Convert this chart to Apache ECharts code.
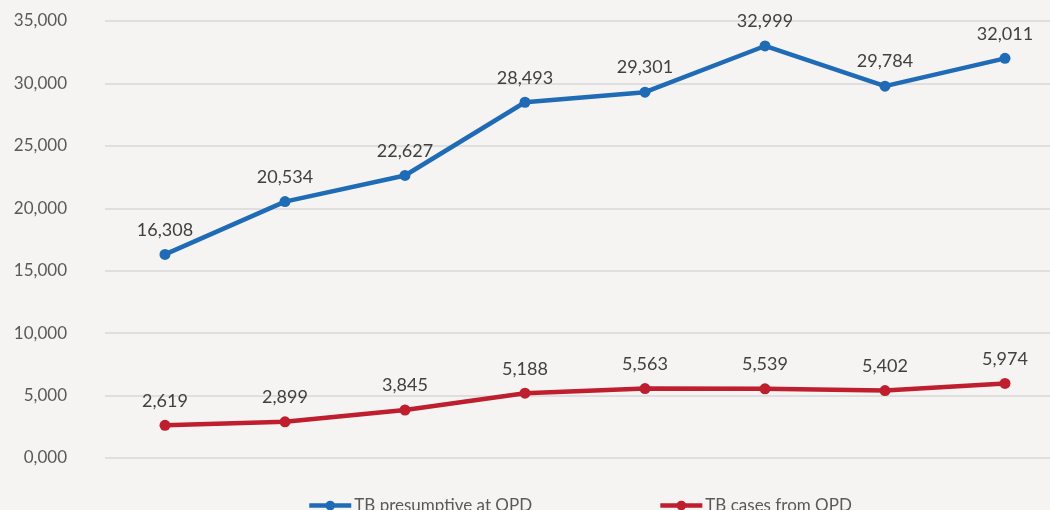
<!DOCTYPE html>
<html>
<head>
<meta charset="utf-8">
<script src="https://cdn.jsdelivr.net/npm/echarts@6/dist/echarts.min.js"></script>
<style>
  html, body { margin: 0; padding: 0; background: #f5f4f2; }
  #chart { width: 1050px; height: 510px; }
</style>
</head>
<body>
<div id="chart"></div>
<script>
// x categories are not labelled in the picture
var categories = ['1', '2', '3', '4', '5', '6', '7', '8']
var presumptive = [16308, 20534, 22627, 28493, 29301, 32999, 29784, 32011]
var cases = [2619, 2899, 3845, 5188, 5563, 5539, 5402, 5974]
var seriesNames = ['TB presumptive at OPD', 'TB cases from OPD']

var echart = echarts.init(document.getElementById('chart'))

var fontFamily = 'Lato, "Open Sans", sans-serif'

function fmt(v) {
    return v === 0 ? '0,000' : v.toLocaleString('en-US')
}

option = {
    backgroundColor: '#f5f4f2',
    textStyle: { fontFamily: fontFamily },
    grid: { left: 105, top: 21, width: 960, height: 437, outerBoundsMode: 'none', containLabel: false },
    legend: {
        top: 492,
        left: 302,
        itemGap: 126,
        itemWidth: 42,
        itemHeight: 12,
        lineStyle: { width: 4.5 },
        textStyle: { fontSize: 17, color: '#595959', fontFamily: fontFamily, padding: [0, 0, 0, -2] },
        data: seriesNames
    },
    xAxis: {
        type: 'category',
        data: categories,
        boundaryGap: true,
        axisLine: { show: false },
        axisTick: { show: false },
        axisLabel: { show: false }
    },
    yAxis: {
        type: 'value',
        min: 0,
        max: 35000,
        interval: 5000,
        axisLabel: {
            formatter: fmt,
            fontSize: 17,
            color: '#595959',
            margin: 38
        },
        splitLine: { lineStyle: { color: '#d9d9d9', width: 1.5 } }
    },
    series: [
        {
            name: seriesNames[0],
            type: 'line',
            data: presumptive,
            symbol: 'circle',
            symbolSize: 11,
            lineStyle: { width: 4.5, color: '#1f6bb5' },
            itemStyle: { color: '#1f6bb5' },
            label: {
                show: true,
                position: 'top',
                distance: 10,
                formatter: function (p) { return fmt(p.value) },
                fontSize: 18,
                color: '#404040'
            }
        },
        {
            name: seriesNames[1],
            type: 'line',
            data: cases,
            symbol: 'circle',
            symbolSize: 11,
            lineStyle: { width: 4.5, color: '#be1e2d' },
            itemStyle: { color: '#be1e2d' },
            label: {
                show: true,
                position: 'top',
                distance: 10,
                formatter: function (p) { return fmt(p.value) },
                fontSize: 18,
                color: '#404040'
            }
        }
    ]
}

echart.setOption(option)
</script>
</body>
</html>
